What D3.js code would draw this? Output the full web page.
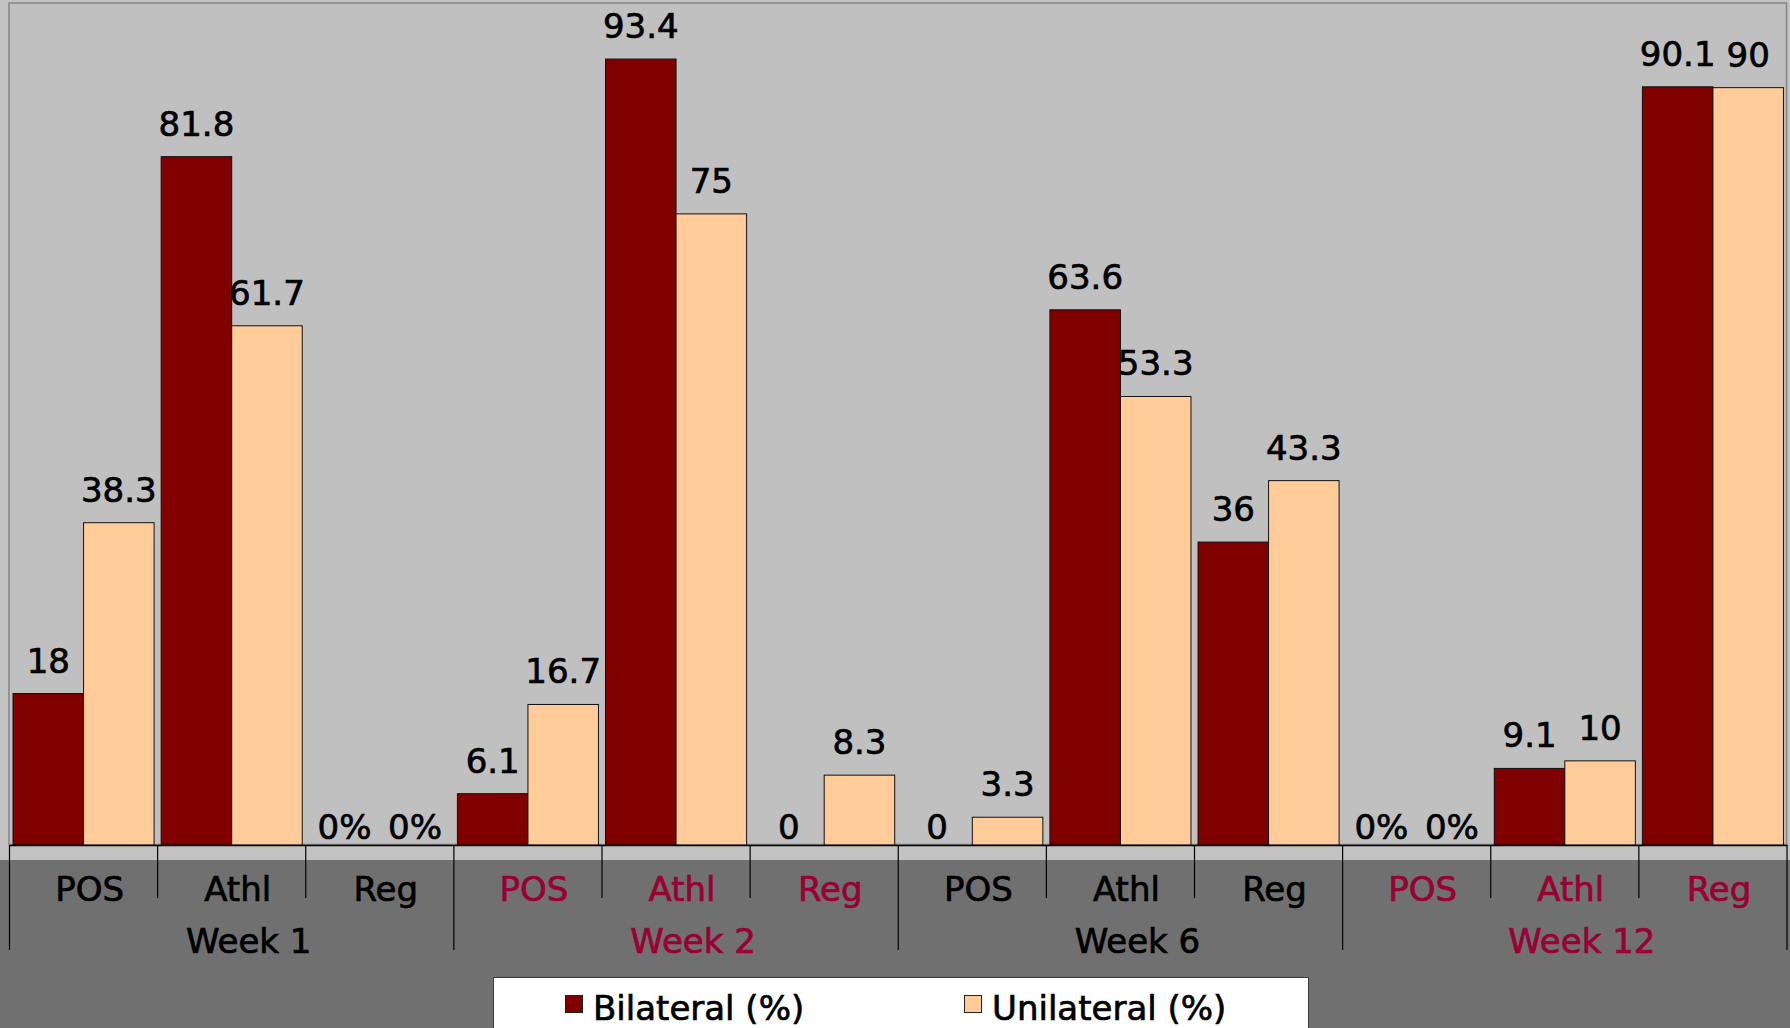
<!DOCTYPE html>
<html>
<head>
<meta charset="utf-8">
<script src="https://cdn.jsdelivr.net/npm/d3@7"></script>
<style>
  html, body { margin: 0; padding: 0; background: #707070; }
  svg { display: block; }
  text { font-family: "DejaVu Sans", Verdana, sans-serif; }
</style>
</head>
<body>
<svg id="chart" width="1790" height="1028"></svg>
<script>
// Category and group labels
const categories = ["POS", "Athl", "Reg"];
const weeks = ["Week 1", "Week 2", "Week 6", "Week 12"];
const seriesNames = ["Bilateral (%)", "Unilateral (%)"];

// Values per week × category (POS, Athl, Reg)
const bilateral  = [18, 81.8, 0,   6.1, 93.4, 0,   0,   63.6, 36,   0, 9.1, 90.1];
const unilateral = [38.3, 61.7, 0, 16.7, 75, 8.3,  3.3, 53.3, 43.3, 0, 10,  90];

// Printed value labels
const bilateralLabels  = ["18", "81.8", "0%", "6.1", "93.4", "0", "0", "63.6", "36", "0%", "9.1", "90.1"];
const unilateralLabels = ["38.3", "61.7", "0%", "16.7", "75", "8.3", "3.3", "53.3", "43.3", "0%", "10", "90"];

const W = 1790, H = 1028;
const plot = { left: 9.5, right: 1787, top: 3.5, bottom: 845 };
const colors = { bilateral: "#800000", unilateral: "#FFCC99" };
const accent = "#990033";

const svg = d3.select("#chart");

// Heavier text strokes, applied to every label
function heavy(sel) {
  sel.attr("stroke", function () { return d3.select(this).attr("fill"); })
     .attr("stroke-width", 0.7)
     .attr("paint-order", "stroke");
}

// Backgrounds: light plot region, darker band under the axis labels
svg.append("rect").attr("x", 0).attr("y", 0).attr("width", W).attr("height", H).attr("fill", "#707070");
svg.append("rect").attr("x", 0).attr("y", 0).attr("width", W).attr("height", 860).attr("fill", "#c2c2c2");
svg.append("rect")
  .attr("x", plot.left - 0.5).attr("y", plot.top - 0.5)
  .attr("width", plot.right - plot.left).attr("height", plot.bottom - plot.top)
  .attr("fill", "#c0c0c0").attr("stroke", "#858585").attr("stroke-width", 1.5);

// Rows: one per week/category pair
const rows = [];
weeks.forEach((w, wi) => categories.forEach((c, ci) => {
  const i = wi * categories.length + ci;
  rows.push({ i, week: w, weekIndex: wi, cat: c,
    values: [
      { key: "bilateral", v: bilateral[i], label: bilateralLabels[i] },
      { key: "unilateral", v: unilateral[i], label: unilateralLabels[i] }
    ]});
}));

const x0 = d3.scaleBand().domain(rows.map(r => r.i)).range([plot.left, plot.right]);
const xWeek = d3.scaleBand().domain(weeks).range([plot.left, plot.right]);
const x1 = d3.scaleBand().domain(["bilateral", "unilateral"]).range([0, x0.bandwidth()]).paddingOuter(0.05);
const y = d3.scaleLinear().domain([0, 100]).range([plot.bottom, plot.top]);

// Bars
const groups = svg.append("g").selectAll("g").data(rows).join("g")
  .attr("transform", d => `translate(${x0(d.i)},0)`);

groups.selectAll("rect").data(d => d.values.filter(v => v.v > 0)).join("rect")
  .attr("x", d => x1(d.key))
  .attr("y", d => y(d.v))
  .attr("width", x1.bandwidth())
  .attr("height", d => y(0) - y(d.v))
  .attr("fill", d => colors[d.key])
  .attr("stroke", "#111")
  .attr("stroke-width", 1);

// Value labels above each bar
groups.selectAll("text").data(d => d.values).join("text")
  .attr("x", d => x1(d.key) + x1.bandwidth() / 2)
  .attr("y", d => d.v === 0 ? y(0) - 6 : y(d.v) - 21)
  .attr("text-anchor", "middle")
  .attr("font-size", 34)
  .attr("fill", "#000")
  .text(d => d.label)
  .call(heavy);

// Category axis
const axisG = svg.append("g").attr("transform", `translate(0,${plot.bottom})`)
  .call(d3.axisBottom(x0).tickSize(0).tickSizeOuter(0).tickFormat(i => rows[i].cat));
axisG.select(".domain").attr("stroke", "#000").attr("stroke-width", 1.5);
axisG.selectAll(".tick text")
  .attr("y", 56).attr("dy", 0).attr("dx", 6)
  .attr("font-size", 34)
  .attr("font-family", "DejaVu Sans, Verdana, sans-serif")
  .attr("fill", i => rows[i].weekIndex % 2 ? accent : "#000")
  .call(heavy);

// Boundary ticks: short between categories, long between weeks
const bounds = rows.map(r => x0(r.i)).concat([plot.right]);
svg.append("g").selectAll("line").data(bounds).join("line")
  .attr("x1", d => d).attr("x2", d => d)
  .attr("y1", plot.bottom)
  .attr("y2", (d, k) => k % categories.length === 0 ? 950 : 898)
  .attr("stroke", "#000").attr("stroke-width", 1.2);

// Week labels
svg.append("g").selectAll("text").data(weeks).join("text")
  .attr("x", w => xWeek(w) + xWeek.bandwidth() / 2 + 17)
  .attr("y", 953)
  .attr("text-anchor", "middle")
  .attr("font-size", 34)
  .attr("fill", (w, k) => k % 2 ? accent : "#000")
  .text(w => w)
  .call(heavy);

// Legend
const legend = svg.append("g");
legend.append("rect")
  .attr("x", 493.5).attr("y", 977.5).attr("width", 815).attr("height", 60)
  .attr("fill", "#fff").attr("stroke", "#3a3a3a").attr("stroke-width", 1);
const legendItems = [
  { name: seriesNames[0], key: "bilateral", x: 565 },
  { name: seriesNames[1], key: "unilateral", x: 964 }
];
const li = legend.selectAll("g.item").data(legendItems).join("g").attr("class", "item")
  .attr("transform", d => `translate(${d.x},0)`);
li.append("rect").attr("x", 0.5).attr("y", 995.5).attr("width", 17).attr("height", 17)
  .attr("fill", d => colors[d.key]).attr("stroke", "#222").attr("stroke-width", 1);
li.append("text").attr("x", 28).attr("y", 1020).attr("font-size", 34).attr("fill", "#000")
  .text(d => d.name)
  .call(heavy);
</script>
</body>
</html>
